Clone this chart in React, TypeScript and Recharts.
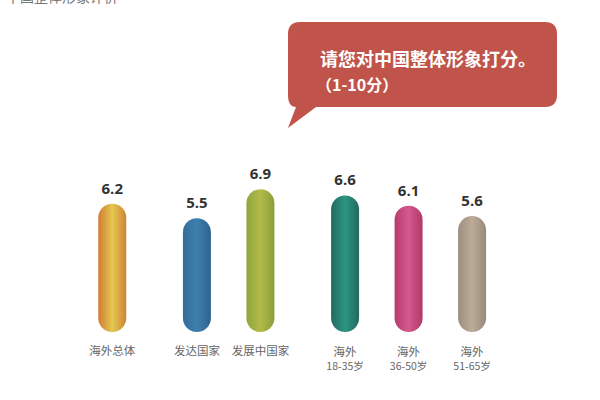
import { BarChart, Bar, XAxis, YAxis, LabelList } from 'recharts';

const categories = ['海外总体', '发达国家', '发展中国家', '海外\n18-35岁', '海外\n36-50岁', '海外\n51-65岁'];
const groups = [0, 1, 1, 2, 2, 2];
const scores = [6.2, 5.5, 6.9, 6.6, 6.1, 5.6];

// edge / centre colours for each bar's horizontal sheen
const barColors = [
  ['#d27a35', '#e4c84e', '#cf8438'],
  ['#336e9c', '#3f7fae', '#2c6390'],
  ['#8ea63c', '#b3ba4a', '#86a038'],
  ['#226b60', '#2c9683', '#21695e'],
  ['#b93a6c', '#d35a8f', '#b2386a'],
  ['#9c8e80', '#bcab98', '#978a7c'],
];

const data = categories.map((name, i) => ({
  name,
  score: scores[i],
  pos: i + groups[i] / 3,
}));

const FONT = '"Noto Sans CJK SC", "Noto Sans", sans-serif';

const Pill = (props: any) => {
  const { x, y, width, height, index } = props;
  return <rect x={x} y={y} width={width} height={height} rx={width / 2} ry={width / 2} fill={`url(#bar${index})`} />;
};

const ValueLabel = (props: any) => {
  const { x, y, width, value } = props;
  return (
    <text x={x + width / 2} y={y - 10} textAnchor="middle" fontFamily='"Open Sans", sans-serif' fontWeight={700} fontSize={15} fill="#333">
      {value}
    </text>
  );
};

const NameLabel = (props: any) => {
  const { x, y, width, height, value } = props;
  const lines = String(value).split('\n');
  const base = y + height + (lines.length > 1 ? 24 : 23);
  return (
    <g>
      {lines.map((l, i) => (
        <text key={i} x={x + width / 2} y={base + i * 14} textAnchor="middle" fontFamily={FONT} fontSize={i === 0 ? 11.5 : 10.5} fill="#666">
          {l}
        </text>
      ))}
    </g>
  );
};

export default function App() {
  return (
    <div style={{ position: 'absolute', left: 0, top: 0, width: 600, height: 400, background: '#fff' }}>
      <BarChart width={600} height={400} data={data} margin={{ top: 125, right: 43.5, bottom: 68, left: 48.5 }}>
        <defs>
          {barColors.map((c, i) => (
            <linearGradient key={i} id={`bar${i}`} x1="0" y1="0" x2="1" y2="0">
              <stop offset="0%" stopColor={c[0]} />
              <stop offset="50%" stopColor={c[1]} />
              <stop offset="100%" stopColor={c[2]} />
            </linearGradient>
          ))}
        </defs>
        <XAxis dataKey="pos" type="number" domain={[-1, 7]} hide />
        <YAxis type="number" domain={[0, 10]} hide />
        <Bar dataKey="score" barSize={28} shape={Pill} isAnimationActive={false}>
          <LabelList dataKey="score" content={ValueLabel} />
          <LabelList dataKey="name" content={NameLabel} />
        </Bar>
      </BarChart>
      <svg width={600} height={400} style={{ position: 'absolute', left: 0, top: 0, pointerEvents: 'none' }}>
        <text x={6} y={2} fontFamily={FONT} fontSize={14} fill="#777">中国整体形象评价</text>
        <path
          d="M300 22 H545 Q557 22 557 34 V95 Q557 107 545 107 H316 L288 128 L296 107 Q288 107 288 95 V34 Q288 22 300 22 Z"
          fill="#c0544a"
        />
        <text x={320} y={66} fontFamily={FONT} fontWeight={700} fontSize={18} fill="#fff">请您对中国整体形象打分。</text>
        <text x={316} y={91} fontFamily={FONT} fontWeight={700} fontSize={16} fill="#fff">（1-10分）</text>
      </svg>
    </div>
  );
}
